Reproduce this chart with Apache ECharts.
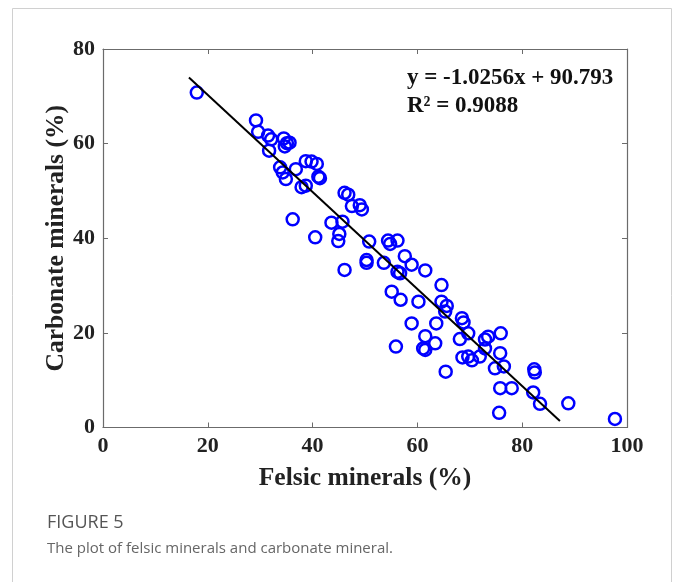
<!DOCTYPE html>
<html>
<head>
<meta charset="utf-8">
<script src="https://cdn.jsdelivr.net/npm/echarts@6/dist/echarts.min.js"></script>
<style>
html,body{margin:0;padding:0;background:#fff;}
#c{width:682px;height:582px;}
</style>
</head>
<body>
<div id="c"></div>
<script>
// Felsic minerals (%)
var felsic = [17.9,29.2,29.6,31.5,32.1,31.7,34.5,35.1,35.6,34.7,33.8,34.3,34.9,36.8,38.7,39.8,40.8,41.1,41.4,37.9,38.7,46.1,46.8,47.5,49.0,49.4,36.2,43.6,45.7,40.5,45.1,44.9,50.8,54.4,54.8,56.2,57.6,50.3,50.3,53.6,58.9,46.1,56.2,56.7,61.5,64.6,55.1,56.8,60.2,64.6,65.6,65.3,68.5,68.8,58.9,63.6,61.5,63.4,61.1,61.5,55.9,68.1,69.7,68.6,69.7,70.4,65.4,72.9,73.5,75.9,71.9,72.9,75.8,74.8,76.5,82.3,82.4,75.8,78.0,82.1,83.4,75.6,88.8,97.7];
// Carbonate minerals (%)
var carbonate = [70.8,64.9,62.5,61.7,60.9,58.5,61.1,60.1,60.2,59.4,55.0,53.9,52.5,54.6,56.3,56.2,55.7,53.0,52.7,50.8,51.1,49.6,49.2,46.8,47.0,46.1,44.0,43.3,43.5,40.2,40.9,39.4,39.3,39.5,38.8,39.5,36.2,35.4,34.8,34.8,34.4,33.3,32.9,32.6,33.2,30.1,28.7,27.0,26.6,26.6,25.7,24.5,23.1,22.2,22.0,22.0,19.3,17.8,16.7,16.4,17.1,18.7,19.9,14.8,15.0,14.2,11.8,18.6,19.2,19.9,15.0,16.7,15.7,12.5,12.9,12.3,11.6,8.3,8.3,7.4,5.0,3.1,5.1,1.8];
// Fit: y = slope * x + intercept, drawn over this x-range
var fitSlope = -1.0256;
var fitIntercept = 90.793;
var fitRange = [16.4, 87.2];
var xTicks = [0, 20, 40, 60, 80, 100];
var yTicks = [0, 20, 40, 60, 80];
var eqLines = ['y = -1.0256x + 90.793', 'R² = 0.9088'];

var pts = felsic.map(function(v, i){ return [v, carbonate[i]]; });
var fitLine = fitRange.map(function(x){ return [x, fitSlope * x + fitIntercept]; });

var serif = '"Liberation Serif","Times New Roman",serif';
var axisCol = '#6b6b6b';
var chart = echarts.init(document.getElementById('c'), null, {renderer:'canvas'});
function baseAxis(extra){
  var a = {
    axisLine:{show:true, onZero:false, lineStyle:{color:axisCol, width:1.2}},
    axisTick:{show:true, inside:true, length:5, lineStyle:{color:axisCol, width:1}},
    splitLine:{show:false},
    axisLabel:{show:false}
  };
  for (var k in extra) a[k] = extra[k];
  return a;
}
chart.setOption({
  animation:false,
  backgroundColor:'#fff',
  grid:{left:103, right:55, top:49, bottom:154.5, containLabel:false},
  xAxis:[
    baseAxis({type:'value', position:'bottom', min:xTicks[0], max:xTicks[xTicks.length-1], interval:20,
      name:'Felsic minerals (%)', nameLocation:'middle', nameGap:38, nameMoveOverlap:false,
      nameTextStyle:{fontFamily:serif, fontWeight:'bold', fontSize:25.5, color:'#222'},
      axisLabel:{show:true, margin:8, fontFamily:serif, fontWeight:'bold', fontSize:22, color:'#222'}}),
    baseAxis({type:'value', position:'top', min:xTicks[0], max:xTicks[xTicks.length-1], interval:20})
  ],
  yAxis:[
    baseAxis({type:'value', position:'left', min:yTicks[0], max:yTicks[yTicks.length-1], interval:20,
      name:'Carbonate minerals (%)', nameLocation:'middle', nameGap:34, nameRotate:90, nameMoveOverlap:false,
      nameTextStyle:{fontFamily:serif, fontWeight:'bold', fontSize:25.5, color:'#222'},
      axisLabel:{show:true, margin:8, fontFamily:serif, fontWeight:'bold', fontSize:22, color:'#222'}}),
    baseAxis({type:'value', position:'right', min:yTicks[0], max:yTicks[yTicks.length-1], interval:20})
  ],
  series:[
    {type:'scatter', data:pts, symbol:'circle', symbolSize:12,
      itemStyle:{color:'rgba(0,0,0,0)', borderColor:'#0000ff', borderWidth:2.5, opacity:1},
      emphasis:{disabled:true}, z:3},
    {type:'line', data:fitLine, showSymbol:false, symbol:'none',
      lineStyle:{color:'#000', width:2}, emphasis:{disabled:true}, z:4}
  ],
  graphic:[
    {type:'rect', shape:{x:12.5, y:8.5, width:659, height:600}, style:{fill:'none', stroke:'#d0d0d0', lineWidth:1}, silent:true},
    {type:'text', left:407, top:67, style:{text:eqLines[0], fontFamily:serif, fontWeight:'bold', fontSize:23, fill:'#111'}},
    {type:'text', left:407, top:95, style:{text:eqLines[1], fontFamily:serif, fontWeight:'bold', fontSize:23, fill:'#111'}},
    {type:'text', left:47, top:514, style:{text:'FIGURE 5', fontFamily:'"Open Sans","Noto Sans",sans-serif', fontSize:18, fill:'#555'}},
    {type:'text', left:47, top:541, style:{text:'The plot of felsic minerals and carbonate mineral.', fontFamily:'"Open Sans","Noto Sans",sans-serif', fontSize:15, fill:'#666'}}
  ]
});
</script>
</body>
</html>
